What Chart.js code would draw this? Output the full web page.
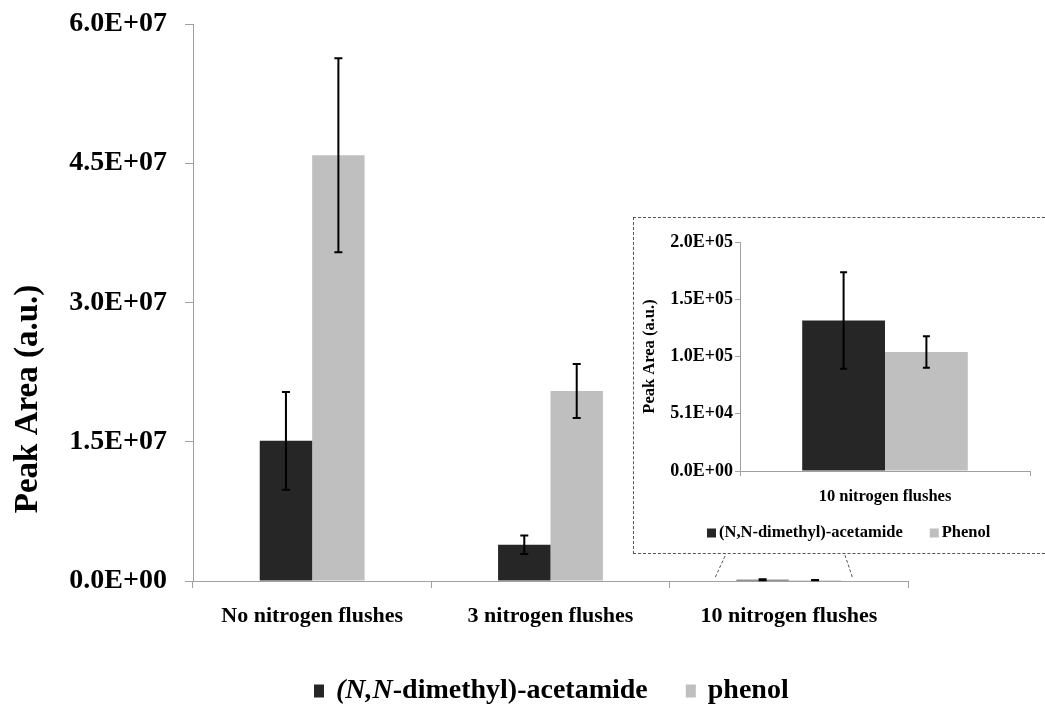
<!DOCTYPE html>
<html>
<head>
<meta charset="utf-8">
<script src="https://cdn.jsdelivr.net/npm/chart.js@4.4.1/dist/chart.umd.min.js"></script>
<style>
  html, body { margin: 0; padding: 0; background: #fff; overflow: hidden; }
  #wrap { position: relative; width: 1045px; height: 709px; }
  #main { position: absolute; left: 0; top: 0; }
  #insetBox { position: absolute; left: 633px; top: 217px; width: 420px; height: 335px;
              border: 1px dashed #555; background: #fff; }
  #inset { position: absolute; left: 0; top: 0; }
</style>
</head>
<body>
<div id="wrap">
  <canvas id="main" width="1045" height="709"></canvas>
  <div id="insetBox"><canvas id="inset" width="411" height="334"></canvas></div>
</div>
<script>
// ---------- data ----------
const categories = ['No nitrogen flushes', '3 nitrogen flushes', '10 nitrogen flushes'];
const amideValues  = [1.51e7, 3.9e6, 1.34e5];
const amideErrors  = [5.27e6, 1.0e6, 4.3e4];
const phenolValues = [4.585e7, 2.047e7, 1.06e5];
const phenolErrors = [1.045e7, 2.9e6, 1.4e4];

const insetCategories = ['10 nitrogen flushes'];
const insetAmideValues  = [1.34e5];
const insetAmideErrors  = [4.3e4];
const insetPhenolValues = [1.06e5];
const insetPhenolErrors = [1.4e4];

const mainTickLabels  = ['0.0E+00', '1.5E+07', '3.0E+07', '4.5E+07', '6.0E+07'];
const insetTickLabels = ['0.0E+00', '5.1E+04', '1.0E+05', '1.5E+05', '2.0E+05'];

const seriesNames = ['(N,N-dimethyl)-acetamide', 'phenol'];
const mainLegendLabels = [
  [{ text: '(N,N', italic: true }, { text: '-dimethyl)-acetamide', italic: false }],
  [{ text: 'phenol', italic: false }]
];
const insetLegendLabels = [
  [{ text: '(N,N-dimethyl)-acetamide', italic: false }],
  [{ text: 'Phenol', italic: false }]
];
const yTitle = 'Peak Area (a.u.)';

// ---------- styles ----------
const FONT = '"Liberation Serif", "Times New Roman", serif';
const DARK = '#262626';
const LIGHT = '#bfbfbf';
const AXIS = '#a0a0a0';

// ---------- plugins ----------
const errorBars = {
  id: 'errorBars',
  afterDatasetsDraw(chart, args, opts) {
    const ctx = chart.ctx;
    const y = chart.scales.y;
    ctx.save();
    ctx.strokeStyle = '#000';
    ctx.lineWidth = opts.lineWidth || 2;
    chart.data.datasets.forEach((ds, i) => {
      const meta = chart.getDatasetMeta(i);
      meta.data.forEach((el, j) => {
        const v = ds.data[j], e = ds.errors[j];
        const yt = y.getPixelForValue(v + e);
        const yb = y.getPixelForValue(v - e);
        const x = el.x;
        ctx.beginPath();
        ctx.moveTo(x, yt); ctx.lineTo(x, yb);
        ctx.moveTo(x - opts.cap, yt); ctx.lineTo(x + opts.cap, yt);
        ctx.moveTo(x - opts.cap, yb); ctx.lineTo(x + opts.cap, yb);
        ctx.stroke();
      });
    });
    ctx.restore();
  }
};

const segLegend = {
  id: 'segLegend',
  afterDraw(chart, args, opts) {
    const ctx = chart.ctx;
    ctx.save();
    let x = opts.x;
    chart.data.datasets.forEach((ds, i) => {
      ctx.fillStyle = ds.backgroundColor;
      ctx.fillRect(x, opts.y - opts.boxH / 2, opts.boxW, opts.boxH);
      x += opts.boxW + opts.gap;
      ctx.fillStyle = '#000';
      ctx.textBaseline = 'middle';
      ctx.textAlign = 'left';
      opts.labels[i].forEach(seg => {
        ctx.font = (seg.italic ? 'italic ' : '') + 'bold ' + opts.size + 'px ' + FONT;
        ctx.fillText(seg.text, x, opts.y);
        x += ctx.measureText(seg.text).width;
      });
      x += opts.itemGap;
    });
    ctx.restore();
  }
};

const sideTitle = {
  id: 'sideTitle',
  afterDraw(chart, args, opts) {
    if (!opts.text) return;
    const ctx = chart.ctx;
    ctx.save();
    ctx.translate(opts.x, opts.y);
    ctx.rotate(-Math.PI / 2);
    ctx.font = 'bold ' + opts.size + 'px ' + FONT;
    ctx.fillStyle = '#000';
    ctx.textAlign = 'center';
    ctx.textBaseline = 'middle';
    ctx.fillText(opts.text, 0, 0);
    ctx.restore();
  }
};

const connectors = {
  id: 'connectors',
  afterDatasetsDraw(chart, args, opts) {
    const a = chart.getDatasetMeta(0).data[opts.index];
    const b = chart.getDatasetMeta(1).data[opts.index];
    const left = a.x - a.width / 2;
    const right = b.x + b.width / 2;
    const base = chart.scales.y.getPixelForValue(0);
    const ctx = chart.ctx;
    ctx.save();
    ctx.strokeStyle = '#555';
    ctx.lineWidth = 1;
    ctx.setLineDash([3, 2]);
    ctx.beginPath();
    ctx.moveTo(left - 21, base - 4); ctx.lineTo(left - 10, opts.top);
    ctx.moveTo(right + 11, base - 4); ctx.lineTo(right + 3, opts.top);
    ctx.stroke();
    ctx.restore();
  }
};

// ---------- main chart ----------
new Chart(document.getElementById('main'), {
  type: 'bar',
  data: {
    labels: categories,
    datasets: [
      { label: seriesNames[0], data: amideValues, errors: amideErrors, backgroundColor: DARK },
      { label: seriesNames[1], data: phenolValues, errors: phenolErrors, backgroundColor: LIGHT }
    ]
  },
  options: {
    responsive: false,
    animation: false,
    categoryPercentage: 0.44,
    barPercentage: 1.0,
    layout: { padding: { top: 24, right: 137, bottom: 0, left: 0 } },
    plugins: {
      legend: { display: false },
      tooltip: { enabled: false },
      errorBars: { cap: 4, lineWidth: 2 },
      segLegend: { x: 314, y: 691, boxW: 10, boxH: 13, gap: 12, itemGap: 38, size: 28, labels: mainLegendLabels },
      sideTitle: { text: yTitle, x: 28, y: 399, size: 33 },
      connectors: { index: 2, top: 553 }
    },
    scales: {
      x: {
        grid: { display: true, drawOnChartArea: false, offset: true, tickLength: 7, color: AXIS },
        border: { color: AXIS },
        ticks: { color: '#000', padding: 15, font: { family: FONT, size: 22, weight: 'bold' }, maxRotation: 0 },
        afterFit(s) { s.height = 128; }
      },
      y: {
        min: 0, max: 6e7,
        grid: { display: true, drawOnChartArea: false, tickLength: 8, color: AXIS },
        border: { color: AXIS },
        ticks: {
          stepSize: 1.5e7, color: '#000', padding: 18,
          font: { family: FONT, size: 28, weight: 'bold' },
          callback: (v, i) => mainTickLabels[i]
        },
        afterFit(s) { s.width = 193; s.paddingTop = 0; s.paddingBottom = 0; }
      }
    }
  },
  plugins: [errorBars, segLegend, sideTitle, connectors]
});

// ---------- inset chart ----------
new Chart(document.getElementById('inset'), {
  type: 'bar',
  data: {
    labels: insetCategories,
    datasets: [
      { label: seriesNames[0], data: insetAmideValues, errors: insetAmideErrors, backgroundColor: DARK },
      { label: seriesNames[1], data: insetPhenolValues, errors: insetPhenolErrors, backgroundColor: LIGHT }
    ]
  },
  options: {
    responsive: false,
    animation: false,
    categoryPercentage: 0.571,
    barPercentage: 1.0,
    layout: { padding: { top: 24, right: 15, bottom: 0, left: 0 } },
    plugins: {
      legend: { display: false },
      tooltip: { enabled: false },
      errorBars: { cap: 3.5, lineWidth: 2 },
      segLegend: { x: 73, y: 315, boxW: 9, boxH: 9, gap: 3, itemGap: 27, size: 16.5, labels: insetLegendLabels }
    },
    scales: {
      x: {
        grid: { display: true, drawOnChartArea: false, offset: true, tickLength: 5, color: AXIS },
        border: { color: AXIS },
        ticks: { color: '#000', padding: 11, font: { family: FONT, size: 16.5, weight: 'bold' }, maxRotation: 0 },
        afterFit(s) { s.height = 81; }
      },
      y: {
        min: 0, max: 204000,
        grid: { display: true, drawOnChartArea: false, tickLength: 5, color: AXIS },
        border: { color: AXIS },
        title: { display: true, text: yTitle, color: '#000', padding: { top: 6, bottom: 0 },
                 font: { family: FONT, size: 16.5, weight: 'bold' } },
        ticks: {
          stepSize: 51000, color: '#000', padding: 2,
          font: { family: FONT, size: 18, weight: 'bold' },
          callback: (v, i) => insetTickLabels[i]
        },
        afterFit(s) { s.width = 106; s.paddingTop = 0; s.paddingBottom = 0; }
      }
    }
  },
  plugins: [errorBars, segLegend]
});
</script>
</body>
</html>
